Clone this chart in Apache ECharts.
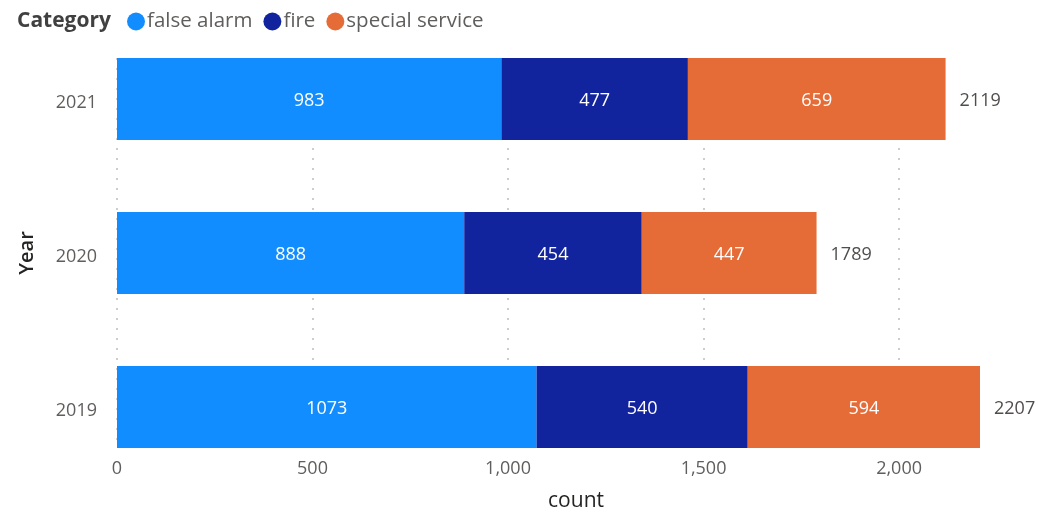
<!DOCTYPE html>
<html>
<head>
<meta charset="utf-8">
<script src="https://cdn.jsdelivr.net/npm/echarts@6/dist/echarts.min.js"></script>
<style>
html,body{margin:0;padding:0;background:#fff;}
#chart{width:1038px;height:512px;}
</style>
</head>
<body>
<div id="chart"></div>
<script>
const years = ['2019', '2020', '2021'];
const falseAlarm = [1073, 888, 983];
const fire = [540, 454, 477];
const specialService = [594, 447, 659];
const seriesNames = ['false alarm', 'fire', 'special service'];
const tickInterval = 500;

const totals = years.map((_, i) => falseAlarm[i] + fire[i] + specialService[i]);
const maxTotal = Math.max(...totals);
const lastTick = Math.floor(maxTotal / tickInterval) * tickInterval;

const W = 1038;
const gridLeft = 117;
const gridRight = 58;
const plotW = W - gridLeft - gridRight;
const grid1Right = W - (gridLeft + plotW * lastTick / maxTotal);

const FONT = '"Open Sans", "Noto Sans", sans-serif';
const colors = ['#118DFF', '#12239E', '#E66C37'];

const chart = echarts.init(document.getElementById('chart'), null, {renderer: 'canvas'});

function barSeries(name, data, color) {
  return {
    name: name, type: 'bar', stack: 'total', xAxisIndex: 0, yAxisIndex: 0,
    data: data, barWidth: 82, itemStyle: {color: color},
    label: {show: true, position: 'inside', offset: [0, 2], color: '#fff', fontFamily: FONT, fontSize: 18},
    emphasis: {disabled: true}
  };
}

chart.setOption({
  animation: false,
  textStyle: {fontFamily: FONT},
  title: {
    text: 'Category', left: 12, top: 6,
    textStyle: {fontFamily: FONT, fontSize: 21, fontWeight: 'bold', color: '#404040'}
  },
  legend: {
    data: seriesNames, left: 122, top: 6, icon: 'circle',
    itemWidth: 18, itemHeight: 18, itemGap: 11,
    textStyle: {fontFamily: FONT, fontSize: 20.5, color: '#605E5C', padding: [0, 0, 0, -3]}
  },
  grid: [
    {left: gridLeft, right: gridRight, top: 22, height: 462, outerBoundsMode: 'none', containLabel: false},
    {left: gridLeft, right: grid1Right, top: 58, height: 389, outerBoundsMode: 'none', containLabel: false}
  ],
  xAxis: [
    {type: 'value', gridIndex: 0, min: 0, max: maxTotal, show: false},
    {
      type: 'value', gridIndex: 1, min: 0, max: lastTick, interval: tickInterval,
      axisLine: {show: false}, axisTick: {show: false},
      axisLabel: {color: '#605E5C', fontSize: 18, fontFamily: FONT, margin: 13},
      splitLine: {show: true, lineStyle: {type: [2, 8], color: '#BDBDBD', width: 1.5}},
      name: 'count', nameLocation: 'middle', nameGap: 44,
      nameTextStyle: {color: '#252423', fontSize: 21, fontFamily: FONT, padding: [0, 0, 0, 136]}
    }
  ],
  yAxis: [
    {
      type: 'category', gridIndex: 0, data: years,
      axisLine: {show: false}, axisTick: {show: false}, splitLine: {show: false},
      axisLabel: {
        fontSize: 18, fontFamily: FONT, margin: 20,
        formatter: v => '{a|' + v + '}',
        rich: {a: {color: '#605E5C', fontSize: 18, fontFamily: FONT, padding: [7, 0, 0, 0]}}
      },
      name: 'Year', nameLocation: 'middle', nameGap: 80, nameRotate: 90,
      nameTextStyle: {color: '#252423', fontSize: 20, fontWeight: 600, fontFamily: FONT}
    },
    {type: 'category', gridIndex: 1, data: years, show: false}
  ],
  series: [
    barSeries(seriesNames[0], falseAlarm, colors[0]),
    barSeries(seriesNames[1], fire, colors[1]),
    barSeries(seriesNames[2], specialService, colors[2]),
    {
      name: 'Total', type: 'bar', stack: 'total', xAxisIndex: 0, yAxisIndex: 0,
      data: years.map(() => 0), barWidth: 82, itemStyle: {color: 'transparent'},
      label: {
        show: true, position: 'right', distance: 14, offset: [0, 2], color: '#504E4C', fontFamily: FONT, fontSize: 18,
        formatter: p => String(totals[p.dataIndex])
      },
      emphasis: {disabled: true}
    }
  ]
});
</script>
</body>
</html>
